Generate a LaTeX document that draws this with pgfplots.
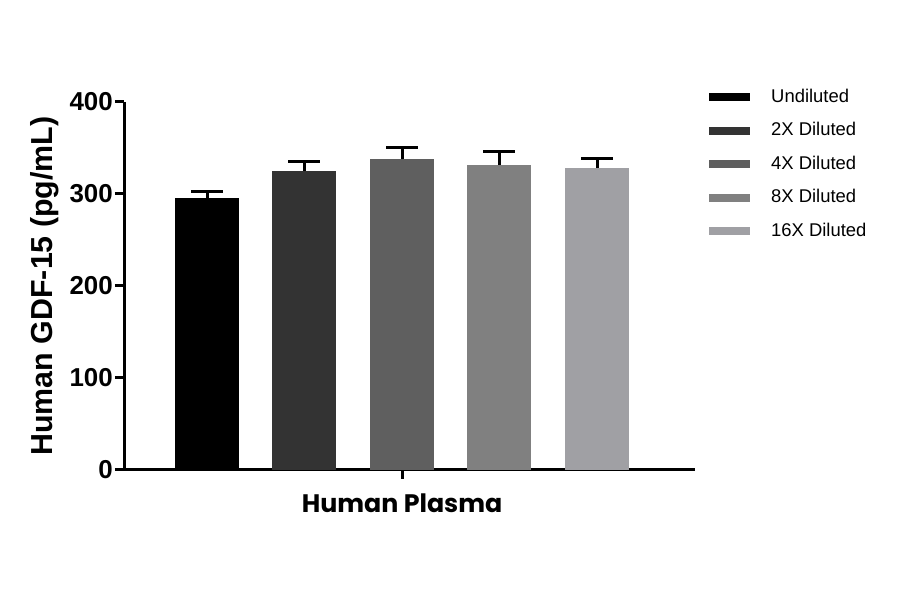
\documentclass[border=0pt]{standalone}
\usepackage{pgfplots}
\pgfplotsset{compat=1.18}
\usepackage{fontspec}
\setmainfont{Liberation Sans}
\newfontfamily\gothic{Poppins}
\definecolor{cA}{HTML}{000000}
\definecolor{cB}{HTML}{333333}
\definecolor{cC}{HTML}{5F5F5F}
\definecolor{cD}{HTML}{808080}
\definecolor{cE}{HTML}{A0A0A4}
\pgfplotsset{legbar/.style={legend image code/.code={\fill (0bp,-4bp) rectangle (41bp,4bp); \path[draw=none,fill=none] (0bp,0bp) -- (62bp,0bp);}},
  eb/.style={error bars/.cd, y dir=plus, y explicit, error bar style={line width=3bp, black}, error mark options={line width=3bp, mark size=16bp, black, rotate=90}}}
\begin{document}
\begin{tikzpicture}
\useasboundingbox (0,0) rectangle (900bp,594bp);
\begin{axis}[
  at={(124bp,124bp)}, anchor=south west,
  scale only axis, width=571bp, height=368bp,
  xmin=0, xmax=571, ymin=0, ymax=400,
  axis lines*=left,
  axis line style={line width=3bp, black},
  tick style={line width=3bp, black},
  tick align=outside, major tick length=9bp,
  xtick={278}, xticklabels={},
  ytick={0,100,200,300,400},
  /pgf/number format/assume math mode=true,
  yticklabel style={font=\bfseries\fontsize{26}{26}\selectfont, inner sep=2bp},
  ylabel={Human GDF-15 (pg/mL)},
  ylabel style={font=\bfseries\fontsize{30.5}{30.5}\selectfont, at={(axis description cs:-0.138,0.5)}, anchor=center},
  xlabel={Human Plasma},
  xlabel style={font=\gothic\bfseries\fontsize{25.4}{25.4}\selectfont, at={(axis description cs:0.487,-0.09)}, anchor=center},
  ybar, bar width=64, bar shift=0pt,
  legend style={at={(axis description cs:1.0245,1.038)}, anchor=north west, draw=none, fill=none, inner sep=0pt,
    font=\fontsize{18.5}{22}\selectfont, row sep=15.5bp,
    nodes={text height=14bp, text depth=4bp, inner sep=0pt}},
  legend cell align=left,
  clip=false,
]
\addplot[legbar, fill=cA, draw=none, eb] coordinates {(83,295.3) +- (0,7.6)};
\addlegendentry{Undiluted}
\addplot[legbar, fill=cB, draw=none, eb] coordinates {(180,325.5) +- (0,9.8)};
\addlegendentry{2X Diluted}
\addplot[legbar, fill=cC, draw=none, eb] coordinates {(278,337.5) +- (0,13.0)};
\addlegendentry{4X Diluted}
\addplot[legbar, fill=cD, draw=none, eb] coordinates {(375,331.6) +- (0,14.2)};
\addlegendentry{8X Diluted}
\addplot[legbar, fill=cE, draw=none, eb] coordinates {(473,328.0) +- (0,10.5)};
\addlegendentry{16X Diluted}
\end{axis}
\end{tikzpicture}
\end{document}
